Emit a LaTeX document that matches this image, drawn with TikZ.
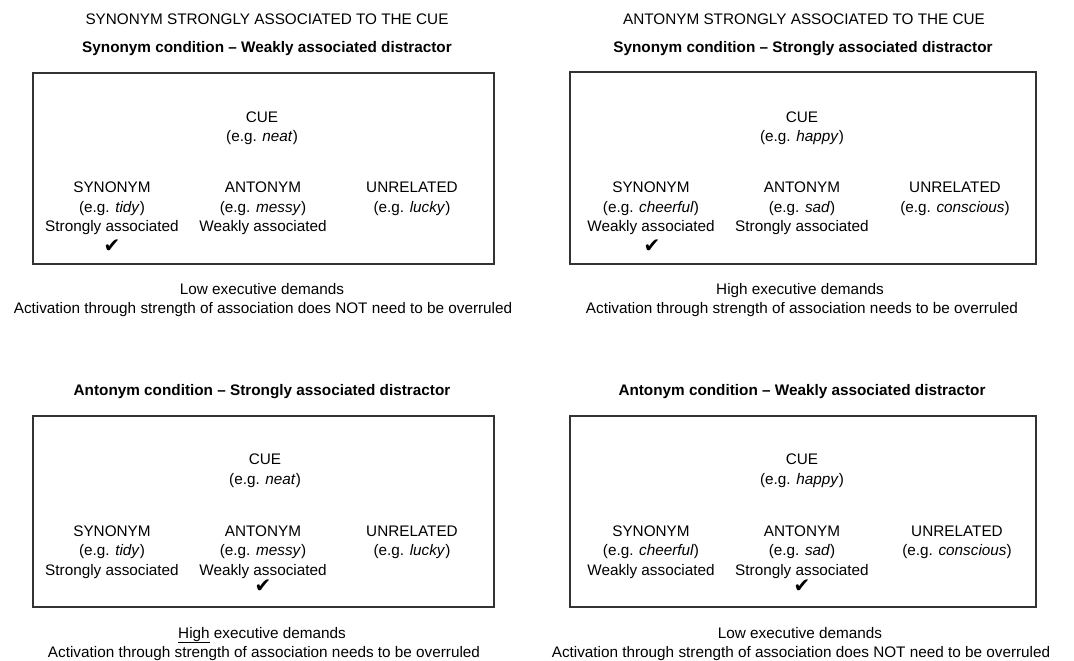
\documentclass[tikz,border=0pt]{standalone}
\usepackage{fontspec}
\setmainfont{Liberation Sans}
\newfontfamily\symfont{DejaVu Sans}
\begin{document}
\begin{tikzpicture}[x=1pt,y=-1pt,
  txt/.style={font=\fontsize{15.3}{18}\selectfont, anchor=base, inner sep=0pt},
  btxt/.style={font=\fontsize{15.3}{18}\selectfont\bfseries, anchor=base, inner sep=0pt},
  panel/.style={draw=black!80, line width=1.3pt},
  tick/.style={font=\symfont\fontsize{20}{20}\selectfont, anchor=center, inner sep=0pt}]
\useasboundingbox (0,0) rectangle (1074,661);

% ---------- top-left ----------
\node[txt] (t1) at (267,25) {SYNONYM STRONGLY ASSOCIATED TO THE CUE};
\node[btxt] (s1) at (267,53) {Synonym condition -- Weakly associated distractor};
\draw[panel] (33,73) rectangle (494,264);
\node[txt] (c1) at (262,122) {CUE};
\node[txt] (ce1) at (262,141) {(e.g. \textit{neat})};
\node[txt] (sy1) at (112,192) {SYNONYM};
\node[txt] (sye1) at (112,212) {(e.g. \textit{tidy})};
\node[txt] (sya1) at (112,231) {Strongly associated};
\node[txt] (an1) at (263,192) {ANTONYM};
\node[txt] (ane1) at (263,212) {(e.g. \textit{messy})};
\node[txt] (ana1) at (263,231) {Weakly associated};
\node[txt] (un1) at (412,192) {UNRELATED};
\node[txt] (une1) at (412,212) {(e.g. \textit{lucky})};
\node[tick] (k1) at (112,246) {✔};
\node[txt] (d1) at (262,294) {Low executive demands};
\node[txt] (a1) at (263,313) {Activation through strength of association does NOT need to be overruled};

% ---------- top-right ----------
\node[txt] (t2) at (804,25) {ANTONYM STRONGLY ASSOCIATED TO THE CUE};
\node[btxt] (s2) at (803,53) {Synonym condition -- Strongly associated distractor};
\draw[panel] (570,72) rectangle (1036,264);
\node[txt] (c2) at (802,122) {CUE};
\node[txt] (ce2) at (802,141) {(e.g. \textit{happy})};
\node[txt] (sy2) at (651,192) {SYNONYM};
\node[txt] (sye2) at (651,212) {(e.g. \textit{cheerful})};
\node[txt] (sya2) at (651,231) {Weakly associated};
\node[txt] (an2) at (802,192) {ANTONYM};
\node[txt] (ane2) at (802,212) {(e.g. \textit{sad})};
\node[txt] (ana2) at (802,231) {Strongly associated};
\node[txt] (un2) at (955,192) {UNRELATED};
\node[txt] (une2) at (955,212) {(e.g. \textit{conscious})};
\node[tick] (k2) at (652,246) {✔};
\node[txt] (d2) at (800,294) {High executive demands};
\node[txt] (a2) at (802,313) {Activation through strength of association needs to be overruled};

% ---------- bottom-left ----------
\node[btxt] (s3) at (262,395) {Antonym condition -- Strongly associated distractor};
\draw[panel] (33,416) rectangle (494,607);
\node[txt] (c3) at (265,464) {CUE};
\node[txt] (ce3) at (265,484) {(e.g. \textit{neat})};
\node[txt] (sy3) at (112,536) {SYNONYM};
\node[txt] (sye3) at (112,555) {(e.g. \textit{tidy})};
\node[txt] (sya3) at (112,575) {Strongly associated};
\node[txt] (an3) at (263,536) {ANTONYM};
\node[txt] (ane3) at (263,555) {(e.g. \textit{messy})};
\node[txt] (ana3) at (263,575) {Weakly associated};
\node[txt] (un3) at (412,536) {UNRELATED};
\node[txt] (une3) at (412,555) {(e.g. \textit{lucky})};
\node[tick] (k3) at (263,586) {✔};
\node[txt] (d3) at (262,638) {\underline{High} executive demands};
\node[txt] (a3) at (264,657) {Activation through strength of association needs to be overruled};

% ---------- bottom-right ----------
\node[btxt] (s4) at (802,395) {Antonym condition -- Weakly associated distractor};
\draw[panel] (570,416) rectangle (1036,607);
\node[txt] (c4) at (802,464) {CUE};
\node[txt] (ce4) at (802,484) {(e.g. \textit{happy})};
\node[txt] (sy4) at (651,536) {SYNONYM};
\node[txt] (sye4) at (651,555) {(e.g. \textit{cheerful})};
\node[txt] (sya4) at (651,575) {Weakly associated};
\node[txt] (an4) at (802,536) {ANTONYM};
\node[txt] (ane4) at (802,555) {(e.g. \textit{sad})};
\node[txt] (ana4) at (802,575) {Strongly associated};
\node[txt] (un4) at (957,536) {UNRELATED};
\node[txt] (une4) at (957,555) {(e.g. \textit{conscious})};
\node[tick] (k4) at (802,586) {✔};
\node[txt] (d4) at (800,638) {Low executive demands};
\node[txt] (a4) at (801,657) {Activation through strength of association does NOT need to be overruled};
\end{tikzpicture}
\end{document}
